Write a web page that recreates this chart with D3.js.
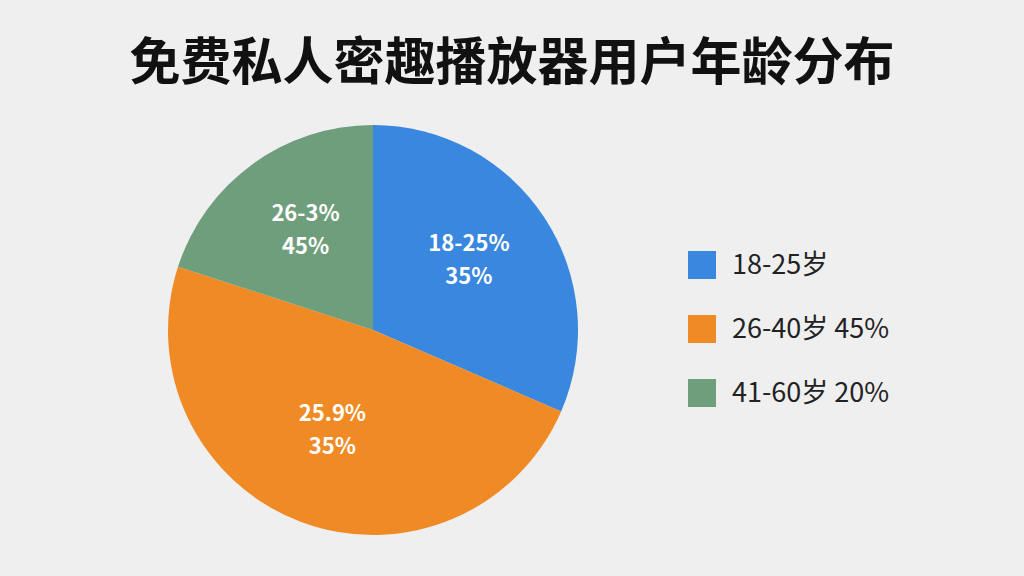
<!DOCTYPE html>
<html><head><meta charset="utf-8">
<script src="https://cdn.jsdelivr.net/npm/d3@7"></script>
<style>body{margin:0;background:#efefef;font-family:"Noto Sans CJK SC","Noto Sans",sans-serif}</style>
</head><body><svg id="c" width="1024" height="576"></svg>
<script>
const title = "免费私人密趣播放器用户年龄分布";
const categories = ["18-25岁", "26-40岁", "41-60岁"];
const values = [31.5, 48.5, 20];
const sliceLabels = [["18-25%", "35%"], ["25.9%", "35%"], ["26-3%", "45%"]];
const legendLabels = ["18-25岁", "26-40岁 45%", "41-60岁 20%"];
const colors = ["#3a87e0", "#ef8a24", "#6f9e7c"];

const svg = d3.select("#c");
svg.append("rect").attr("width", 1024).attr("height", 576).attr("fill", "#efefef");
svg.append("text").attr("x", 512).attr("y", 80).attr("text-anchor", "middle")
  .attr("font-size", 51).attr("font-weight", 700).attr("fill", "#111").text(title);

const cx = 373, cy = 330, r = 205;
const pie = d3.pie().sort(null)(values);
const arc = d3.arc().innerRadius(0).outerRadius(r);
const g = svg.append("g").attr("transform", `translate(${cx},${cy})`);
g.selectAll("path").data(pie).join("path")
  .attr("d", arc).attr("fill", (d, i) => colors[i]);

const labelArc = d3.arc().innerRadius(r * 0.56).outerRadius(r * 0.56);
const lab = g.selectAll("text.l").data(pie).join("text")
  .attr("class", "l").attr("text-anchor", "middle")
  .attr("font-size", 22).attr("font-weight", 600).attr("fill", "#fff")
  .attr("transform", d => { const [x, y] = labelArc.centroid(d); return `translate(${x},${y - 16})`; });
lab.append("tspan").attr("x", 0).attr("dy", 0).text((d, i) => sliceLabels[i][0]);
lab.append("tspan").attr("x", 0).attr("dy", 33).text((d, i) => sliceLabels[i][1]);

const ly = d3.scalePoint().domain(categories).range([265, 393]);
const lg = svg.append("g").selectAll("g").data(categories).join("g")
  .attr("transform", d => `translate(688,${ly(d)})`);
lg.append("rect").attr("y", -14).attr("width", 28).attr("height", 28).attr("fill", (d, i) => colors[i]);
lg.append("text").attr("x", 44).attr("y", 9).attr("font-size", 27).attr("fill", "#222")
  .text((d, i) => legendLabels[i]);
</script></body></html>
